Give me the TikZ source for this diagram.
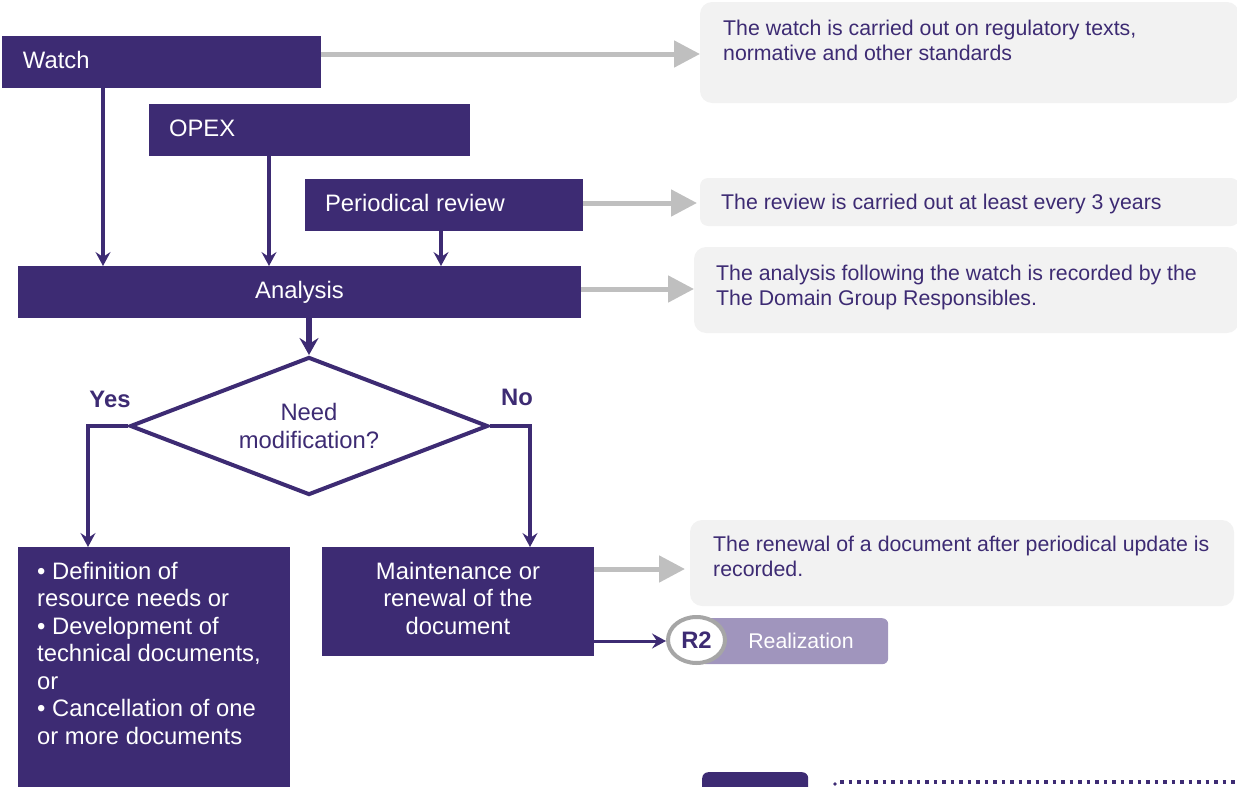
\documentclass[tikz,border=0pt]{standalone}
\usepackage{fontspec}
\setmainfont{Liberation Sans}
\usetikzlibrary{arrows.meta,shapes.geometric}
\definecolor{pur}{RGB}{61,43,115}
\definecolor{garr}{RGB}{191,191,191}
\definecolor{cbg}{RGB}{242,242,242}
\definecolor{realc}{RGB}{160,149,189}
\definecolor{rgrey}{RGB}{166,166,166}
\begin{document}
\begin{tikzpicture}[x=1pt,y=-1pt,
  mfont/.style={font=\fontsize{23.8}{27.5}\selectfont},
  cfont/.style={font=\fontsize{21.3}{25}\selectfont},
  pbox/.style={fill=pur, draw=none, inner sep=0pt, outer sep=0pt, anchor=north west, text=white, mfont, text height=17pt, text depth=5pt, minimum height=52pt},
  wtext/.style={text=white, mfont, inner sep=0pt},
  callout/.style={fill=cbg, draw=none, rounded corners=12pt, anchor=north west, inner sep=0pt, outer sep=0pt},
  ctext/.style={text=pur, cfont, align=left, anchor=base west, inner sep=0pt},
  lbl/.style={text=pur, font=\bfseries\fontsize{23.8}{27.5}\selectfont, inner sep=0pt},
  flow/.style={draw=pur, line width=3.5pt, -{Stealth[length=14pt,width=15pt,inset=5pt]}},
  bigflow/.style={draw=pur, line width=5.5pt, -{Stealth[length=17pt,width=19pt,inset=6pt]}},
  garrow/.style={draw=garr, line width=5pt, -{Triangle[length=26pt,width=26pt]}}
]
\useasboundingbox (0,0) rectangle (1237,787);

% grey callouts
\node[callout, minimum width=539pt, minimum height=101pt] (c1) at (700,2) {};
\node[callout, rounded corners=8pt, minimum width=539pt, minimum height=48pt] (c2) at (700,178) {};
\node[callout, minimum width=545pt, minimum height=86pt] (c3) at (694,247) {};
\node[callout, minimum width=544pt, minimum height=86pt] (c4) at (690,520) {};
% multi-line texts: base anchor is on the last line
\node[ctext] (t1) at (723,60) {The watch is carried out on regulatory texts,\\normative and other standards};
\node[ctext] (t2) at (721,209) {The review is carried out at least every 3 years};
\node[ctext] (t3) at (716,305) {The analysis following the watch is recorded by the\\The Domain Group Responsibles.};
\node[ctext] (t4) at (713,576) {The renewal of a document after periodical update is\\recorded.};

% process boxes
\node[pbox, inner xsep=21pt] (watch) at (2,36) {\makebox[277pt][l]{Watch}};
\node[pbox, inner xsep=20pt] (opex) at (149,104) {\makebox[281pt][l]{OPEX}};
\node[pbox, inner xsep=20pt] (per) at (305,179) {\makebox[238pt][l]{Periodical review}};
\node[pbox, minimum width=563pt] (ana) at (18,266) {Analysis};
\node[pbox, minimum width=272pt, minimum height=260pt] (defbox) at (18,547) {};
\node[wtext, anchor=base west, align=left] (deftext) at (37,744) {\textbullet{} Definition of\\resource needs or\\\textbullet{} Development of\\technical documents,\\or\\\textbullet{} Cancellation of one\\or more documents};
\node[pbox, minimum width=272pt, minimum height=109pt] (maint) at (322,547) {};
\node[wtext, anchor=base, align=center] (mtext) at (458,634) {Maintenance or\\renewal of the\\document};

% decision
\node[diamond, aspect=2.594, draw=pur, line width=4pt, fill=white, minimum width=358pt, minimum height=138pt, inner sep=0pt, text=pur, mfont, align=center] (dec) at (309,426) {Need\\modification?};
\node[lbl] (yes) at (110,399) {Yes};
\node[lbl] (no) at (517,397) {No};

% purple connectors
\draw[flow] ([xshift=101pt]watch.south west) -- ([xshift=85pt]ana.north west);
\draw[flow] ([xshift=120pt]opex.south west) -- ([xshift=251pt]ana.north west);
\draw[flow] ([xshift=136pt]per.south west) -- ([xshift=423pt]ana.north west);
\draw[bigflow] (dec.north |- ana.south) -- (dec.north);
\draw[flow] (dec.west) -| ([xshift=70pt]defbox.north west);
\draw[flow] (dec.east) -| ([xshift=208pt]maint.north west);

% grey arrows
\path ([yshift=8pt]watch.east) coordinate (g1);
\path ([yshift=2pt]per.east) coordinate (g2);
\path ([yshift=3pt]ana.east) coordinate (g3);
\path ([yshift=32.5pt]maint.east) coordinate (g4);
\draw[garrow] (g1) -- (g1 -| c1.west);
\draw[garrow, shorten >=3pt] (g2) -- (g2 -| c2.west);
\draw[garrow] (g3) -- (g3 -| c3.west);
\draw[garrow, shorten >=5pt] (g4) -- (g4 -| c4.west);

% realization
\node[fill=realc, rounded corners=6pt, anchor=north west, minimum width=188pt, minimum height=46pt, inner sep=0pt] (realbox) at (700,618) {};
\node[text=white, cfont, inner sep=0pt] (realtext) at (801,641) {Realization};
\node[ellipse, draw=rgrey, line width=4pt, fill=white, minimum width=57pt, minimum height=46pt, inner sep=0pt, text=pur, font=\bfseries\fontsize{23.8}{27.5}\selectfont] (r2) at (696.5,640) {R2};
\path ([yshift=-39.5pt]maint.east) coordinate (m2);
\draw[flow, line width=3pt] (m2) -- (m2 -| r2.west);

% bottom partial elements
\node[fill=pur, rounded corners=6pt, anchor=north west, minimum width=106pt, minimum height=30pt, inner sep=0pt] (bott) at (702,772) {};
\draw[pur, line width=4pt, dash pattern=on 3.5pt off 5pt] (840,782) -- (1240,782);
\fill[pur] (835,784) circle (1.8pt);
\end{tikzpicture}
\end{document}
